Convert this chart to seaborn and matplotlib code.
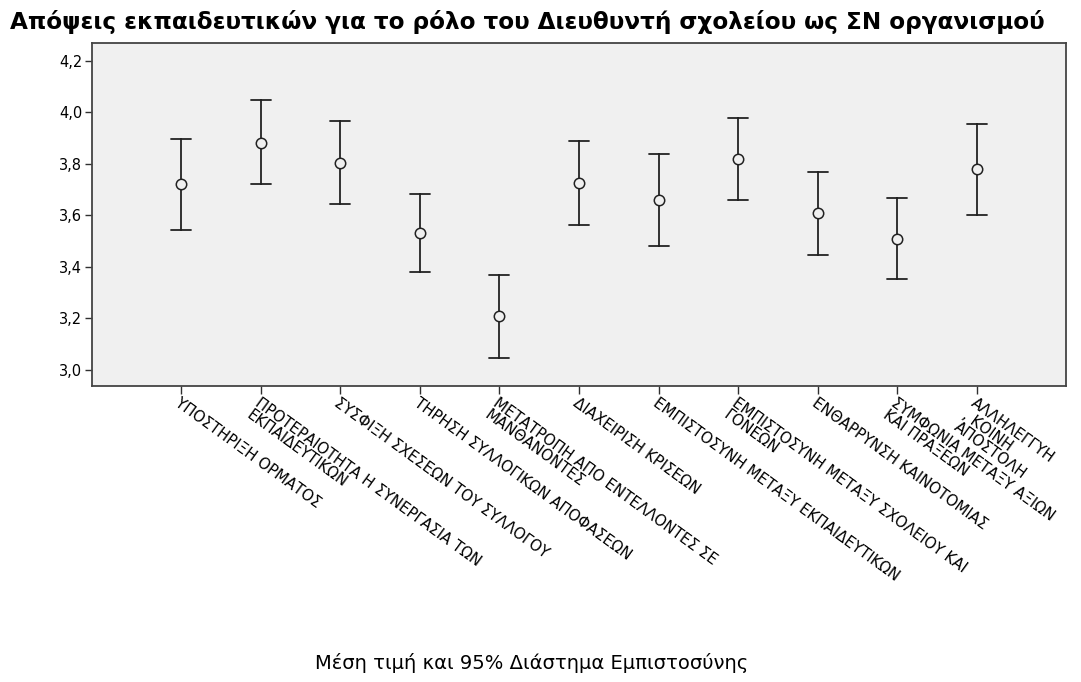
import numpy as np
import pandas as pd
import matplotlib
matplotlib.use("Agg")
import matplotlib.pyplot as plt
from matplotlib.ticker import FixedLocator, FixedFormatter
import seaborn as sns

# items (x axis), means and 95% CI limits
items = ['ΥΠΟΣΤΗΡΙΞΗ ΟΡΜΑΤΟΣ',
         'ΠΡΟΤΕΡΑΙΟΤΗΤΑ Η ΣΥΝΕΡΓΑΣΙΑ ΤΩΝ\nΕΚΠΑΙΔΕΥΤΙΚΩΝ',
         'ΣΥΣΦΙΞΗ ΣΧΕΣΕΩΝ ΤΟΥ ΣΥΛΛΟΓΟΥ',
         'ΤΗΡΗΣΗ ΣΥΛΛΟΓΙΚΩΝ ΑΠΟΦΑΣΕΩΝ',
         'ΜΕΤΑΤΡΟΠΗ ΑΠΟ ΕΝΤΕΛΛΟΝΤΕΣ ΣΕ\nΜΑΝΘΑΝΟΝΤΕΣ',
         'ΔΙΑΧΕΙΡΙΣΗ ΚΡΙΣΕΩΝ',
         'ΕΜΠΙΣΤΟΣΥΝΗ ΜΕΤΑΞΥ ΕΚΠΑΙΔΕΥΤΙΚΩΝ',
         'ΕΜΠΙΣΤΟΣΥΝΗ ΜΕΤΑΞΥ ΣΧΟΛΕΙΟΥ ΚΑΙ\nΓΟΝΕΩΝ',
         'ΕΝΘΑΡΡΥΝΣΗ ΚΑΙΝΟΤΟΜΙΑΣ',
         'ΣΥΜΦΩΝΙΑ ΜΕΤΑΞΥ ΑΞΙΩΝ\nΚΑΙ ΠΡΑΞΕΩΝ',
         'ΑΛΛΗΛΕΓΓΥΗ\n, ΚΟΙΝΗ\nΑΠΟΣΤΟΛΗ']
means = [3.72, 3.882, 3.804, 3.530, 3.208, 3.726, 3.660, 3.817, 3.609, 3.509, 3.779]
ci_low = [3.542, 3.721, 3.644, 3.378, 3.047, 3.563, 3.481, 3.658, 3.446, 3.354, 3.602]
ci_high = [3.895, 4.046, 3.964, 3.681, 3.367, 3.889, 3.838, 3.977, 3.769, 3.666, 3.954]
yticks = [3.0, 3.2, 3.4, 3.6, 3.8, 4.0, 4.2]
ytick_labels = ['3,0', '3,2', '3,4', '3,6', '3,8', '4,0', '4,2']

title = 'Απόψεις εκπαιδευτικών για το ρόλο του Διευθυντή σχολείου ως ΣΝ οργανισμού'
note = 'Μέση τιμή και 95% Διάστημα Εμπιστοσύνης'

# long table: low / mean / high per item -> median = mean, full range = CI
rows = []
for name, lo, m, hi in zip(items, ci_low, means, ci_high):
    for v in (lo, m, hi):
        rows.append({'item': name, 'value': v})
df = pd.DataFrame(rows)

sns.set_style('white')
plt.rcParams['font.family'] = ['DejaVu Sans']
plt.rcParams['text.color'] = 'black'
plt.rcParams['xtick.color'] = 'black'
plt.rcParams['ytick.color'] = 'black'

fig = plt.figure(figsize=(10.81, 6.82), dpi=100)
ax = fig.add_axes([0.0851, 0.434, 0.901, 0.5025])
ax.set_facecolor('#f0f0f0')

sns.pointplot(data=df, x='item', y='value', order=items,
              estimator='median', errorbar=('pi', 100),
              linestyle='none', marker='o', markersize=7.5,
              markerfacecolor='#f0f0f0', markeredgecolor='#222222',
              markeredgewidth=1.1, color='#222222', capsize=0.25,
              err_kws={'linewidth': 1.3, 'color': '#222222', 'zorder': 2},
              zorder=3, ax=ax)

ax.set_xlim(-1.12, 11.12)
ax.set_ylim(2.937, 4.267)
ax.yaxis.set_major_locator(FixedLocator(yticks))
ax.yaxis.set_major_formatter(FixedFormatter(ytick_labels))
ax.set_xlabel('')
ax.set_ylabel('')

ax.tick_params(axis='y', direction='out', length=5, width=1, color='#303030',
               labelsize=10.5, pad=2, left=True, labelcolor='black')
ax.tick_params(axis='x', direction='out', length=6, width=1, color='#303030',
               bottom=True, pad=1, labelcolor='black')
ax.set_xticks(range(len(items)))
ax.set_xticklabels(items, rotation=-36, rotation_mode='anchor',
                   ha='left', va='top', fontsize=10.8, linespacing=0.95)

for s in ax.spines.values():
    s.set_visible(True)
    s.set_color('#444444')
    s.set_linewidth(1.3)

fig.text(0.009, 0.968, title, fontsize=16.7, fontweight='bold', ha='left', va='center')
fig.text(0.492, 0.028, note, fontsize=14, ha='center', va='center')

fig.savefig('out.png', dpi=100, facecolor='white')
